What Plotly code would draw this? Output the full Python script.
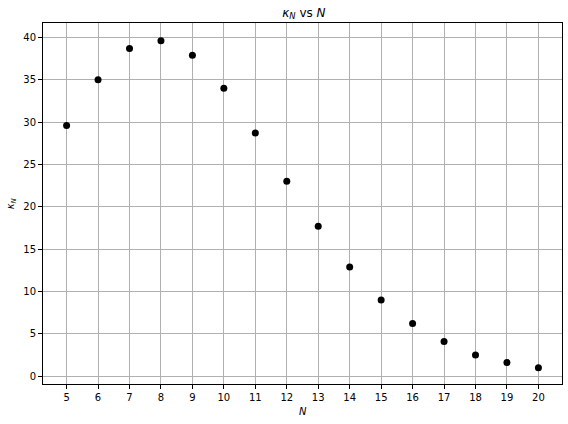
import plotly.graph_objects as go

N = [5, 6, 7, 8, 9, 10, 11, 12, 13, 14, 15, 16, 17, 18, 19, 20]
kappa = [29.6, 35.0, 38.7, 39.6, 37.9, 34.0, 28.7, 23.0, 17.7, 12.9, 9.0, 6.2, 4.1, 2.5, 1.6, 1.0]
x_ticks = list(range(5, 21))
y_ticks = [0, 5, 10, 15, 20, 25, 30, 35, 40]

fig = go.Figure()
fig.add_trace(go.Scatter(
    x=N, y=kappa, mode="markers",
    marker=dict(color="black", size=7, line=dict(width=0)),
    showlegend=False,
))

axis_common = dict(
    showline=True, linecolor="black", linewidth=1, mirror=True,
    showgrid=True, gridcolor="#b0b0b0", gridwidth=1,
    ticks="outside", ticklen=4, tickcolor="black", tickwidth=1,
    zeroline=False, automargin=False,
    tickfont=dict(family="DejaVu Sans", size=10, color="black"),
)

fig.update_layout(
    width=568, height=424,
    margin=dict(l=43, r=6, t=23, b=40, autoexpand=False),
    paper_bgcolor="white", plot_bgcolor="white",
    title=dict(
        text="<i>κ<sub>N</sub></i> vs <i>N</i>",
        x=0.535, xanchor="center", y=0.97, yanchor="middle",
        font=dict(family="DejaVu Sans", size=12, color="black"),
    ),
    xaxis=dict(range=[4.25, 20.75], tickvals=x_ticks, **axis_common),
    yaxis=dict(range=[-0.93, 41.7], tickvals=y_ticks, **axis_common),
    annotations=[
        dict(text="<i>N</i>", xref="paper", yref="paper", x=0.5, y=-0.075,
             xanchor="center", yanchor="middle", showarrow=False,
             font=dict(family="DejaVu Sans", size=10, color="black")),
        dict(text="<i>κ<sub>N</sub></i>", xref="paper", yref="paper", x=-0.06, y=0.5,
             xanchor="center", yanchor="middle", showarrow=False, textangle=-90,
             font=dict(family="DejaVu Sans", size=10, color="black")),
    ],
)

fig.write_html("out.html", config={"displayModeBar": False},
               post_script="document.body.style.margin='0';")
